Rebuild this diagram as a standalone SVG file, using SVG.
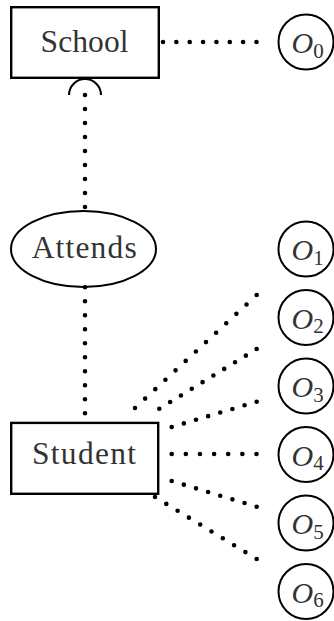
<svg xmlns="http://www.w3.org/2000/svg" width="334" height="621" viewBox="0 0 334 621">
<style>
.box{fill:none;stroke:#000;stroke-width:2.4}
.oc{fill:none;stroke:#000;stroke-width:2}
.lbl{font-family:"Liberation Serif","Times New Roman",serif;font-size:31.5px;fill:#333;text-anchor:middle}
.ol{font-family:"Liberation Serif","Times New Roman",serif;fill:#333}
.ol .o{font-style:italic;font-size:30px}
.ol .s{font-size:21px}
.dot{fill:none;stroke:#000;stroke-width:4.6;stroke-linecap:round;stroke-dasharray:0 1}
.arc{fill:none;stroke:#000;stroke-width:2}
</style>
<rect width="334" height="621" fill="#fff"/>
<g id="connectors">
<path class="dot" d="M163 42 L256.5 42" pathLength="7.002"/>
<path class="arc" d="M69 95 A16 16 0 0 1 101 95"/>
<path class="dot" d="M85 95 L85 207" pathLength="8.002"/>
<path class="dot" d="M85 287.3 L85 413.3" pathLength="9.002"/>
<path class="dot" d="M135 408 L256.7 295" pathLength="12.002"/>
<path class="dot" d="M159.3 408.7 L256.7 349" pathLength="9.002"/>
<path class="dot" d="M171.7 427 L256.7 401.7" pathLength="7.002"/>
<path class="dot" d="M171.7 454 L256.5 454" pathLength="6.002"/>
<path class="dot" d="M171.7 481 L256.7 506.7" pathLength="7.002"/>
<path class="dot" d="M155 497 L256.7 559" pathLength="9.002"/>
</g>
<g id="school">
<rect class="box" x="11.2" y="7.2" width="147.6" height="70.6"/>
<text class="lbl" x="84.5" y="52.3" textLength="88">School</text>
</g>
<g id="attends">
<ellipse class="oc" cx="83.5" cy="249" rx="72.5" ry="38"/>
<text class="lbl" x="84.2" y="258.3" textLength="105" lengthAdjust="spacing">Attends</text>
</g>
<g id="student">
<rect class="box" x="11.2" y="422.9" width="147" height="70.9"/>
<text class="lbl" x="84" y="464" textLength="104" lengthAdjust="spacing">Student</text>
</g>
<g id="o0"><circle class="oc" cx="306" cy="42" r="27.5"/><text class="ol" x="291.5" y="53"><tspan class="o">O</tspan><tspan class="s" dy="4.5">0</tspan></text></g>
<g id="o1"><circle class="oc" cx="306" cy="249" r="27.5"/><text class="ol" x="291.5" y="260"><tspan class="o">O</tspan><tspan class="s" dy="4.5">1</tspan></text></g>
<g id="o2"><circle class="oc" cx="306" cy="317.5" r="27.5"/><text class="ol" x="291.5" y="328.5"><tspan class="o">O</tspan><tspan class="s" dy="4.5">2</tspan></text></g>
<g id="o3"><circle class="oc" cx="306" cy="386" r="27.5"/><text class="ol" x="291.5" y="397"><tspan class="o">O</tspan><tspan class="s" dy="4.5">3</tspan></text></g>
<g id="o4"><circle class="oc" cx="306" cy="454.5" r="27.5"/><text class="ol" x="291.5" y="465.5"><tspan class="o">O</tspan><tspan class="s" dy="4.5">4</tspan></text></g>
<g id="o5"><circle class="oc" cx="306" cy="523" r="27.5"/><text class="ol" x="291.5" y="534"><tspan class="o">O</tspan><tspan class="s" dy="4.5">5</tspan></text></g>
<g id="o6"><circle class="oc" cx="306" cy="591.5" r="27.5"/><text class="ol" x="291.5" y="602.5"><tspan class="o">O</tspan><tspan class="s" dy="4.5">6</tspan></text></g>
</svg>
